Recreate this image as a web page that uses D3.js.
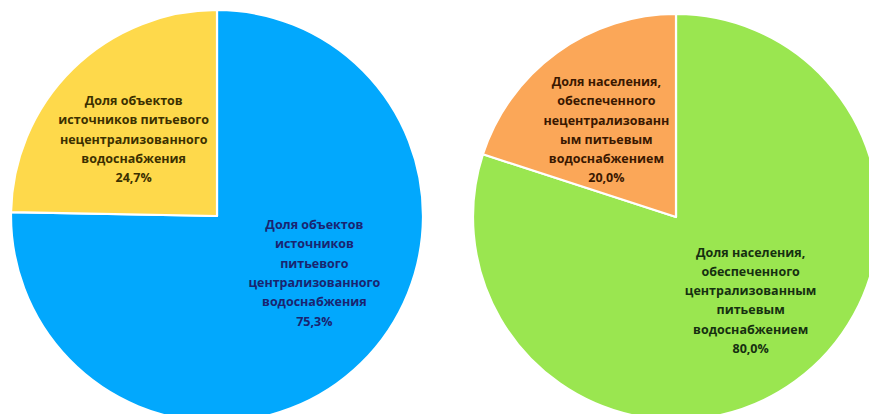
<!DOCTYPE html>
<html lang="ru">
<head>
<meta charset="utf-8">
<script src="https://cdn.jsdelivr.net/npm/d3@7"></script>
<style>
  html, body { margin: 0; padding: 0; background: #ffffff; }
  svg { display: block; }
  text { font-family: "Open Sans", "DejaVu Sans", sans-serif; font-weight: 700; }
</style>
</head>
<body>
<svg id="chart" width="869" height="414"></svg>
<script>
// Доля объектов источников питьевого водоснабжения
const objCategories = [
  ["Доля объектов", "источников", "питьевого", "централизованного", "водоснабжения"],
  ["Доля объектов", "источников питьевого", "нецентрализованного", "водоснабжения"]
];
const objValues = [75.3, 24.7];

// Доля населения, обеспеченного питьевым водоснабжением
const popCategories = [
  ["Доля населения,", "обеспеченного", "централизованным", "питьевым", "водоснабжением"],
  ["Доля населения,", "обеспеченного", "нецентрализованн", "ым питьевым", "водоснабжением"]
];
const popValues = [80.0, 20.0];

const fmt = v => v.toFixed(1).replace(".", ",") + "%";

const svg = d3.select("#chart");

const pies = [
  {
    cats: objCategories, vals: objValues,
    cx: 217, cy: 216, r: 206,
    fills: ["#02A8FD", "#FED94B"],
    ink: ["#1A2470", "#3B3000"],
    nudge: [[18, -24], [-4, 4]]
  },
  {
    cats: popCategories, vals: popValues,
    cx: 676, cy: 217, r: 203,
    fills: ["#9AE650", "#FBA758"],
    ink: ["#163010", "#3A1800"],
    nudge: [[9, -7], [-4, 3]]
  }
];

const lineH = 19.3;

pies.forEach(p => {
  const pie = d3.pie().sort(null).value(d => d)(p.vals);
  const arc = d3.arc().innerRadius(0).outerRadius(p.r);
  const labelArc = d3.arc().innerRadius(p.r * 0.55).outerRadius(p.r * 0.55);

  const g = svg.append("g").attr("transform", `translate(${p.cx},${p.cy})`);

  g.selectAll("path.slice")
    .data(pie)
    .join("path")
    .attr("class", "slice")
    .attr("d", arc)
    .attr("fill", (d, i) => p.fills[i])
    .attr("stroke", "#ffffff")
    .attr("stroke-width", 2.2)
    .attr("stroke-linejoin", "round");

  pie.forEach((d, i) => {
    const [x, y] = labelArc.centroid(d);
    const lines = p.cats[i].concat([fmt(d.data)]);
    const cx = x + p.nudge[i][0];
    const cy = y + p.nudge[i][1];
    const t = g.append("text")
      .attr("text-anchor", "middle")
      .attr("fill", p.ink[i])
      .attr("font-size", 12.5);
    lines.forEach((ln, k) => {
      t.append("tspan")
        .attr("x", cx)
        .attr("y", cy + (k - (lines.length - 1) / 2) * lineH + 4.5)
        .text(ln);
    });
  });
});
</script>
</body>
</html>
